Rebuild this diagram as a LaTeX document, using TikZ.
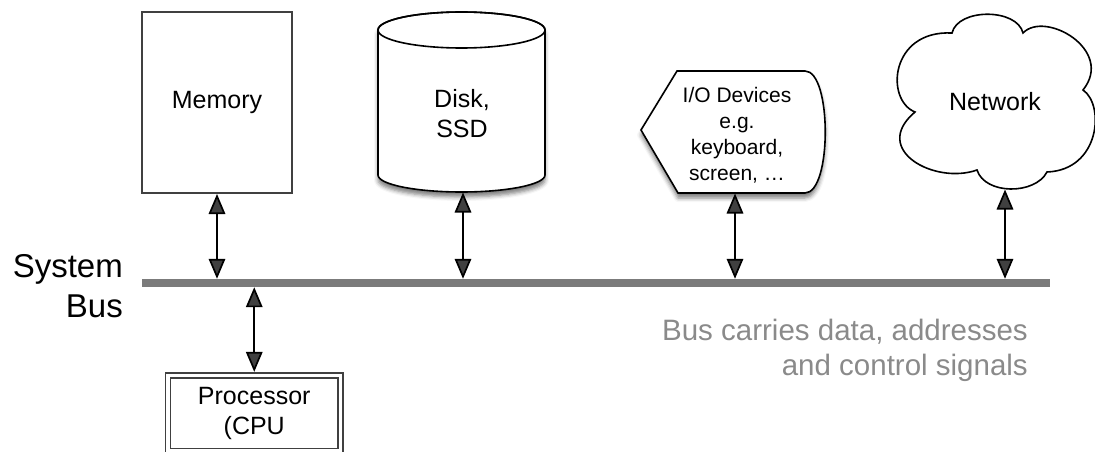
\documentclass[tikz,border=0pt]{standalone}
\usepackage{fontspec}
\setmainfont{Liberation Sans}
\usetikzlibrary{arrows.meta,shadows.blur}
\definecolor{busgray}{HTML}{7B7B7B}
\definecolor{notegray}{HTML}{8A8A8A}
\definecolor{boxgray}{HTML}{404040}
\begin{document}
\begin{tikzpicture}[x=1pt,y=-1pt,
  arr/.style={line width=1.7pt, {Triangle[length=20pt,width=16.5pt]}-{Triangle[length=20pt,width=16.5pt]}},
  shp/.style={draw=black, line width=1.6pt, fill=white},
  shd/.style={blur shadow={shadow xshift=0pt, shadow yshift=-5pt, shadow blur radius=4pt, shadow opacity=50}},
  lbl/.style={font=\fontsize{25}{30}\selectfont, align=center, inner sep=0pt}
]
\useasboundingbox (0,0) rectangle (1095,452);

% Memory
\node[draw=boxgray, line width=2pt, minimum width=150pt, minimum height=181pt, lbl] (mem) at (217,102.5) {Memory};

% Disk cylinder
\path[shp, shd] (378,30) .. controls (378,20.06) and (415.4,12) .. (461.5,12)
  .. controls (507.6,12) and (545,20.06) .. (545,30) -- (545,175)
  .. controls (545,184.4) and (507.6,192) .. (461.5,192)
  .. controls (415.4,192) and (378,184.4) .. (378,175) -- cycle;
\draw[line width=1.6pt] (461.5,30) ellipse [x radius=83.5, y radius=18];
\node[lbl] (disk) at (462,114) {Disk,\\SSD};
\coordinate (diskb) at (463,192.5);

% I/O devices
\path[shp, shd] (641,130) -- (677,71) -- (805,71)
  .. controls (832,71) and (832,193) .. (805,193) -- (678,193) -- cycle;
\node[font=\fontsize{21}{26}\selectfont, align=center, inner sep=0pt] (io) at (737,135) {I/O Devices\\e.g.\\keyboard,\\screen, \dots};
\coordinate (iob) at (735,193.5);

% Network cloud
\path[shp] (952,33) .. controls (958,8) and (1017,8) .. (1023,33)
  .. controls (1045,10) and (1115,50) .. (1083,90)
  .. controls (1105,105) and (1100,170) .. (1047,172)
  .. controls (1035,195) and (985,195) .. (977,170)
  .. controls (935,185) and (870,150) .. (915,112)
  .. controls (885,100) and (890,30) .. (952,33) -- cycle;
\node[lbl] (net) at (995,102) {Network};
\coordinate (netb) at (1005,189.5);

% System bus
\node[fill=busgray, minimum width=908pt, minimum height=8pt, inner sep=0pt] (bus) at (596,283) {};
\node[font=\fontsize{33}{40}\selectfont, align=right, inner sep=0pt, anchor=east] (buslbl) at (123,286) {System\\Bus};
\node[font=\fontsize{29.5}{35}\selectfont, align=right, inner sep=0pt, anchor=north east, text=notegray] (note) at (1028,318.5) {Bus carries data, addresses\\and control signals};

% Processor
\node[draw=boxgray, double, double distance=3.5pt, line width=1.3pt, minimum width=172.5pt, minimum height=75.5pt, lbl] (cpu) at (254.25,413.25) {Processor\\(CPU};

% Connectors
\draw[arr] (mem.south) -- (mem.south |- bus.north);
\draw[arr] (diskb) -- (diskb |- bus.north);
\draw[arr] (iob) -- (iob |- bus.north);
\draw[arr] (netb) -- (netb |- bus.north);
\draw[arr, shorten >=3pt] (cpu.north |- bus.south) -- (cpu.north);
\end{tikzpicture}
\end{document}
